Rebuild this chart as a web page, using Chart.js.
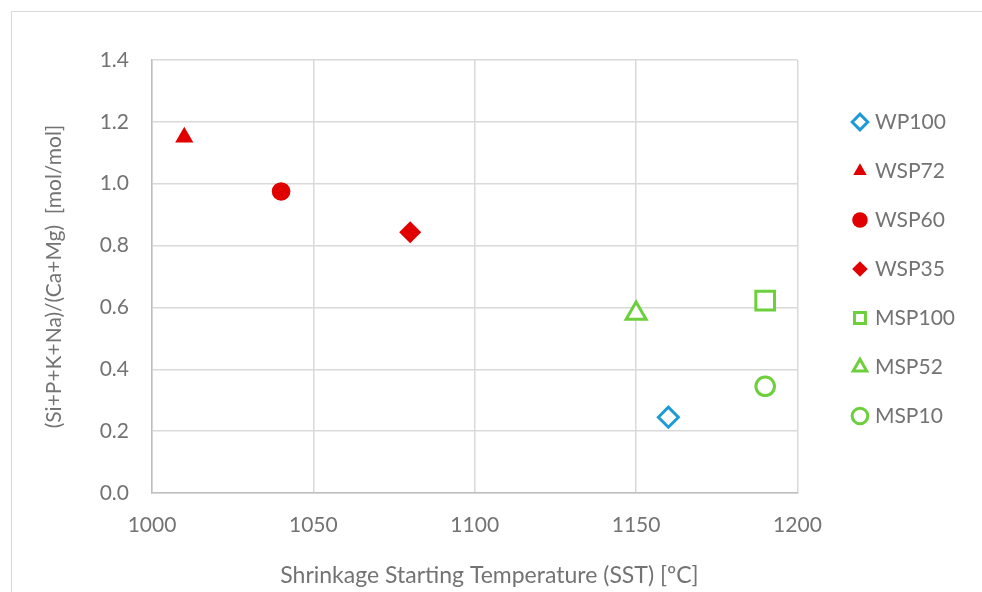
<!DOCTYPE html>
<html>
<head>
<meta charset="utf-8">
<script src="https://cdn.jsdelivr.net/npm/chart.js@4.4.1/dist/chart.umd.min.js"></script>
<style>
  html, body { margin: 0; padding: 0; background: #fff; overflow: hidden; }
  #frame { position: absolute; left: 11px; top: 11px; width: 1100px; height: 700px; border: 1px solid #d9d9d9; }
  #wrap { position: absolute; left: 0; top: 0; width: 982px; height: 592px; }
</style>
</head>
<body>
<div id="frame"></div>
<div id="wrap"><canvas id="chart"></canvas></div>
<script>
// one point per sample
const seriesNames = ['WP100', 'WSP72', 'WSP60', 'WSP35', 'MSP100', 'MSP52', 'MSP10'];
const sstValues = [1160, 1010, 1040, 1080, 1190, 1150, 1190];
const ratioValues = [0.245, 1.15, 0.975, 0.843, 0.622, 0.58, 0.345];
const xTicks = [1000, 1050, 1100, 1150, 1200];
const yTicks = [0, 0.2, 0.4, 0.6, 0.8, 1.0, 1.2, 1.4];

// marker look per series
const markerShapes = ['rectRot', 'triangle', 'circle', 'rectRot', 'rect', 'triangle', 'circle'];
const markerColors = ['#1f9ad8', '#e00000', '#e00000', '#e00000', '#6ccf3c', '#6ccf3c', '#6ccf3c'];
const markerFilled = [false, true, true, true, false, false, false];
const markerRadius = [10, 10.5, 9.3, 11, 13.2, 11.5, 9.3];

const textColor = '#737373';
const fontFamily = 'Lato';
const fontSize = 21;
Chart.defaults.font.family = fontFamily;
Chart.defaults.font.size = fontSize;
Chart.defaults.color = textColor;

// legend width = padding + box + gap + widest label + 10 (chart.js fit)
const legendPad = 28, legendBox = 9;
const mctx = document.createElement('canvas').getContext('2d');
mctx.font = fontSize + 'px ' + fontFamily;
const widest = Math.max.apply(null, seriesNames.map(function(n) { return mctx.measureText(n).width; }));
const legendWidth = Math.ceil(legendPad + legendBox + fontSize / 2 + widest + 10);
const rightPad = Math.max(0, 982 - 797 - 30 - legendWidth);

const datasets = seriesNames.map(function(name, i) {
    return {
        label: name,
        data: [{ x: sstValues[i], y: ratioValues[i] }],
        pointStyle: markerShapes[i],
        pointRadius: markerRadius[i],
        pointHoverRadius: markerRadius[i],
        backgroundColor: markerFilled[i] ? markerColors[i] : '#ffffff',
        borderColor: markerColors[i],
        borderWidth: markerFilled[i] ? 0 : 3
    };
});

new Chart(document.getElementById('chart'), {
    type: 'scatter',
    data: { datasets: datasets },
    options: {
        responsive: true,
        maintainAspectRatio: false,
        animation: false,
        events: [],
        layout: { padding: { left: 0, top: 60, right: rightPad, bottom: 0 } },
        scales: {
            x: {
                type: 'linear',
                min: xTicks[0],
                max: xTicks[xTicks.length - 1],
                afterBuildTicks: function(s) { s.ticks = xTicks.map(function(v) { return { value: v }; }); },
                afterFit: function(s) { s.height = 99; },
                ticks: { padding: 20, color: textColor, maxRotation: 0, callback: function(v) { return String(v); } },
                grid: { color: '#d9d9d9', lineWidth: 1.5, drawTicks: false },
                border: { color: '#bfbfbf', width: 1.5 },
                title: {
                    display: true,
                    // leading spaces nudge it right, like the original
                    text: '     Shrinkage Starting Temperature (SST) [ºC]',
                    color: textColor,
                    font: { size: 23 },
                    padding: { top: 0, bottom: 3 }
                }
            },
            y: {
                type: 'linear',
                min: yTicks[0],
                max: yTicks[yTicks.length - 1],
                afterBuildTicks: function(s) { s.ticks = yTicks.map(function(v) { return { value: v }; }); },
                afterFit: function(s) { s.width = 152; },
                ticks: {
                    padding: 23,
                    color: textColor,
                    callback: function(v) { return Number(v).toFixed(1); }
                },
                grid: { color: '#d9d9d9', lineWidth: 1.5, drawTicks: false },
                border: { color: '#bfbfbf', width: 1.5 },
                title: {
                    display: true,
                    text: '(Si+P+K+Na)/(Ca+Mg)  [mol/mol]',
                    color: textColor,
                    padding: { top: 42, bottom: 0 }
                }
            },
            // empty axis, only keeps a gap between plot and legend
            gap: {
                type: 'linear',
                position: 'right',
                display: true,
                afterFit: function(s) { s.width = 30; },
                ticks: { display: false },
                grid: { display: false, drawTicks: false },
                border: { display: false }
            }
        },
        plugins: {
            tooltip: { enabled: false },
            legend: {
                position: 'right',
                align: 'start',
                fullSize: false,
                maxWidth: legendWidth + 20,
                title: { display: true, text: '', font: { size: 10, lineHeight: 1.2 }, padding: { top: 0, bottom: 11.5 } },
                labels: {
                    usePointStyle: true,
                    boxWidth: legendBox,
                    boxHeight: 11,
                    padding: legendPad,
                    color: textColor,
                    font: { size: fontSize }
                }
            }
        }
    }
});
</script>
</body>
</html>
